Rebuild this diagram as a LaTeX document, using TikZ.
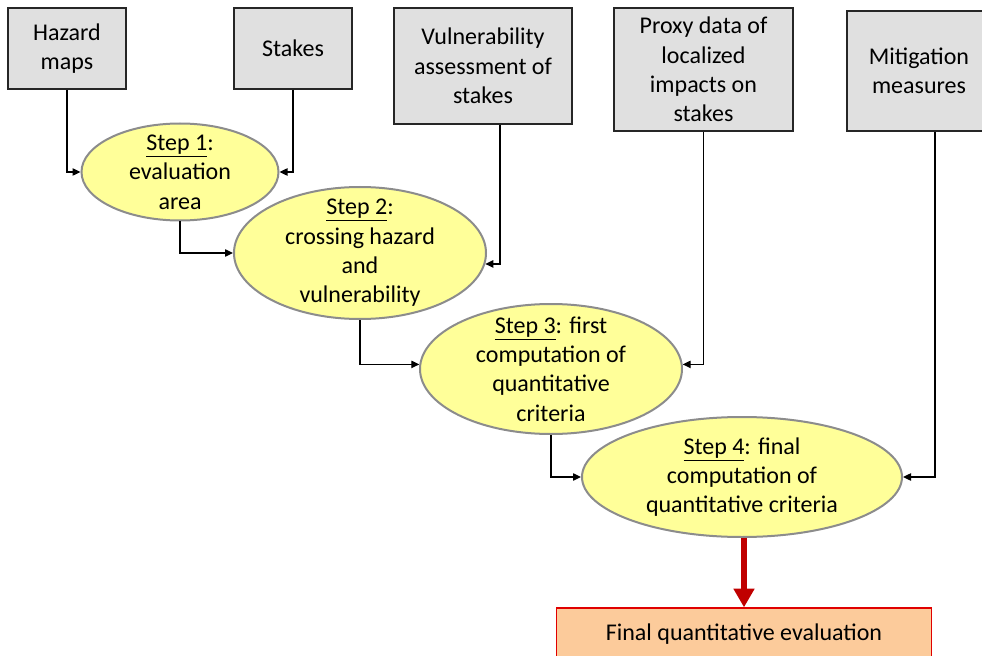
\documentclass[tikz,border=0pt]{standalone}
\usepackage{fontspec}
\setmainfont{Carlito}
\usepackage{tikz}
\usetikzlibrary{shapes,arrows.meta}
\definecolor{boxgray}{RGB}{224,224,224}
\definecolor{stepyellow}{RGB}{255,255,153}
\definecolor{stepborder}{RGB}{140,140,140}
\definecolor{finalfill}{RGB}{252,203,155}
\definecolor{finalborder}{RGB}{224,0,0}
\definecolor{darkred}{RGB}{192,0,0}
\tikzstyle{inputbox} = [rectangle, draw=black!85, line width=1.1pt, fill=boxgray,
align=center, inner sep=0pt]
\tikzstyle{stepnode} = [ellipse, draw=stepborder, line width=1.5pt, fill=stepyellow,
align=center, inner xsep=0pt, inner ysep=-15pt]
\tikzstyle{finalbox} = [rectangle, draw=finalborder, line width=1pt, fill=finalfill,
minimum width=281.25pt, minimum height=39pt, text centered]
\tikzstyle{flowArrow} = [line width=1pt, -{Triangle[length=6pt,width=5.5pt]}]
\tikzstyle{resultArrow} = [line width=4.5pt, darkred, -{Triangle[length=14pt,width=15pt]}]

\begin{document}
\begin{tikzpicture}[x=0.75pt, y=-0.75pt, font=\fontsize{18pt}{22pt}\selectfont]
		\useasboundingbox (0,0) rectangle (982,656);
		%inputs
		\node[inputbox, minimum width=88.5pt, minimum height=60.75pt] (hazard) at (67,48.5) {Hazard\\maps};
		\node[inputbox, minimum width=88.5pt, minimum height=60.75pt] (stakes) at (293,48.5) {Stakes};
		\node[inputbox, minimum width=133.5pt, minimum height=87pt] (vuln) at (483,66) {Vulnerability\\assessment of\\stakes};
		\node[inputbox, minimum width=134.25pt, minimum height=92.25pt] (proxy) at (703.5,69.5) {Proxy data of\\localized\\impacts on\\stakes};
		\node[inputbox, minimum width=108pt, minimum height=90pt] (mitig) at (919,71) {Mitigation\\measures};
		%steps
		\node[stepnode, minimum width=147.75pt, minimum height=72.75pt] (step1) at (180,172) {\underline{Step 1}:\\evaluation\\area};
		\node[stepnode, minimum width=189pt, minimum height=99pt] (step2) at (360,253) {\underline{Step 2}:\\crossing hazard\\and\\vulnerability};
		\node[stepnode, minimum width=196.5pt, minimum height=97.5pt] (step3) at (551,369) {\underline{Step 3}: first\\computation of\\quantitative\\criteria};
		\node[stepnode, minimum width=240pt, minimum height=90pt] (step4) at (742,477) {\underline{Step 4}: final\\computation of\\quantitative criteria};
		\node[finalbox] (final) at (744,634) {Final quantitative evaluation};

		%arrows
		\draw[flowArrow] (hazard.south) |- (step1.west);
		\draw[flowArrow] (stakes.south) |- (step1.east);
		\draw[flowArrow] (step1.south) |- (step2.west);
		\draw[flowArrow] ([xshift=12.75pt]vuln.south) |- (step2.-5);
		\draw[flowArrow] (step2.south) |- (step3.178);
		\draw[flowArrow] (proxy.south) |- (step3.2);
		\draw[flowArrow] (step3.south) |- (step4.west);
		\draw[flowArrow] ([xshift=12pt]mitig.south) |- (step4.east);
		\draw[resultArrow] (step4.south -| final) -- (final.north);
	\end{tikzpicture}
\end{document}
